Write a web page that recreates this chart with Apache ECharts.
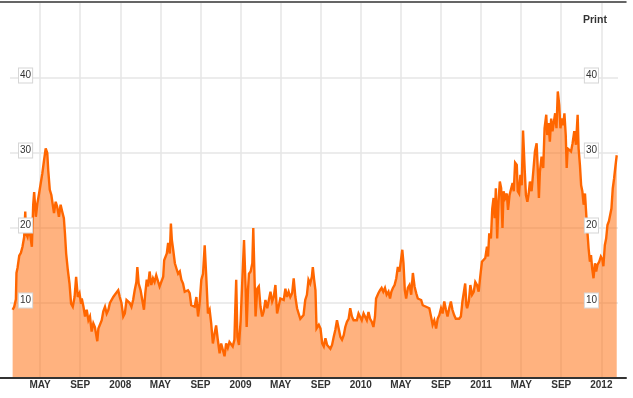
<!DOCTYPE html>
<html><head><meta charset="utf-8">
<script src="https://cdn.jsdelivr.net/npm/echarts@6/dist/echarts.min.js"></script>
<style>html,body{margin:0;padding:0;background:#fff}#c{width:633px;height:398px}</style>
</head><body><div id="c"></div>
<script>
// Dates as decimal years
const dates = [
2007.105,2007.118,2007.132,2007.137,2007.146,2007.160,2007.174,2007.187,2007.201,2007.210,
2007.216,2007.229,2007.243,2007.257,2007.265,2007.276,2007.284,2007.298,2007.311,2007.325,
2007.339,2007.352,2007.366,2007.380,2007.393,2007.401,2007.414,2007.427,2007.435,2007.449,
2007.463,2007.476,2007.490,2007.504,2007.517,2007.531,2007.540,2007.550,2007.564,2007.578,
2007.591,2007.605,2007.620,2007.633,2007.647,2007.661,2007.674,2007.680,2007.694,2007.707,
2007.721,2007.735,2007.748,2007.762,2007.776,2007.789,2007.809,2007.818,2007.832,2007.846,
2007.859,2007.873,2007.887,2007.901,2007.914,2007.928,2007.942,2007.955,2007.969,2007.983,
2007.996,2008.010,2008.025,2008.038,2008.052,2008.066,2008.079,2008.093,2008.107,2008.120,
2008.134,2008.142,2008.153,2008.169,2008.183,2008.197,2008.208,2008.220,2008.231,2008.244,
2008.258,2008.272,2008.285,2008.299,2008.313,2008.327,2008.343,2008.357,2008.365,2008.376,
2008.387,2008.398,2008.412,2008.421,2008.429,2008.440,2008.454,2008.467,2008.481,2008.495,
2008.508,2008.522,2008.536,2008.549,2008.563,2008.577,2008.590,2008.604,2008.619,2008.633,
2008.647,2008.660,2008.674,2008.688,2008.702,2008.715,2008.729,2008.743,2008.756,2008.770,
2008.784,2008.797,2008.811,2008.826,2008.839,2008.853,2008.867,2008.880,2008.894,2008.908,
2008.921,2008.935,2008.949,2008.956,2008.964,2008.974,2008.987,2009.001,2009.015,2009.029,
2009.043,2009.051,2009.062,2009.070,2009.084,2009.098,2009.106,2009.114,2009.125,2009.139,
2009.152,2009.166,2009.180,2009.193,2009.207,2009.222,2009.235,2009.249,2009.263,2009.276,
2009.290,2009.304,2009.317,2009.331,2009.345,2009.359,2009.373,2009.386,2009.400,2009.414,
2009.429,2009.442,2009.456,2009.470,2009.483,2009.497,2009.511,2009.524,2009.538,2009.552,
2009.565,2009.579,2009.593,2009.601,2009.612,2009.623,2009.632,2009.643,2009.651,2009.665,
2009.679,2009.692,2009.706,2009.720,2009.734,2009.747,2009.761,2009.775,2009.788,2009.802,
2009.816,2009.830,2009.844,2009.858,2009.871,2009.885,2009.899,2009.912,2009.926,2009.940,
2009.953,2009.967,2009.981,2009.994,2010.008,2010.023,2010.036,2010.050,2010.064,2010.077,
2010.091,2010.105,2010.118,2010.127,2010.138,2010.146,2010.160,2010.173,2010.187,2010.201,
2010.215,2010.230,2010.243,2010.254,2010.267,2010.281,2010.295,2010.308,2010.322,2010.331,
2010.345,2010.355,2010.366,2010.377,2010.391,2010.405,2010.419,2010.433,2010.447,2010.461,
2010.474,2010.488,2010.502,2010.515,2010.529,2010.543,2010.556,2010.570,2010.584,2010.597,
2010.611,2010.626,2010.639,2010.653,2010.667,2010.680,2010.694,2010.708,2010.721,2010.735,
2010.749,2010.762,2010.776,2010.790,2010.803,2010.817,2010.832,2010.845,2010.859,2010.868,
2010.878,2010.884,2010.898,2010.911,2010.925,2010.939,2010.952,2010.966,2010.980,2010.993,
2011.007,2011.021,2011.035,2011.049,2011.058,2011.068,2011.082,2011.093,2011.104,2011.113,
2011.123,2011.134,2011.146,2011.156,2011.167,2011.178,2011.187,2011.200,2011.214,2011.224,
2011.237,2011.250,2011.262,2011.272,2011.283,2011.297,2011.305,2011.316,2011.327,2011.338,
2011.349,2011.363,2011.373,2011.385,2011.396,2011.406,2011.420,2011.435,2011.448,2011.462,
2011.470,2011.481,2011.489,2011.503,2011.517,2011.528,2011.542,2011.550,2011.561,2011.572,
2011.583,2011.594,2011.604,2011.616,2011.627,2011.638,2011.650,2011.660,2011.671,2011.683,
2011.693,2011.704,2011.712,2011.720,2011.734,2011.748,2011.761,2011.775,2011.789,2011.803,
2011.811,2011.822,2011.832,2011.842,2011.853,2011.864,2011.875,2011.886,2011.894,2011.905,
2011.914,2011.924,2011.935,2011.947,2011.957,2011.968,2011.982,2011.996,2012.009,2012.017,
2012.029,2012.040,2012.051,2012.063,2012.073,2012.084,2012.095,2012.106,2012.117,2012.128
];
const values = [
9.1,9.5,10.5,14.0,14.7,16.3,16.7,17.5,18.8,22.2,
19.3,18.8,20.2,18.4,17.5,23.1,24.8,21.5,23.3,24.6,
26.0,27.3,29.0,30.6,30.0,27.7,25.1,24.4,23.5,22.0,
23.5,22.8,21.5,23.1,22.2,21.3,19.3,16.6,14.4,12.6,
9.9,9.5,10.8,13.5,10.8,11.3,9.9,10.6,9.5,8.2,
9.1,7.7,8.2,6.2,7.3,6.8,4.9,6.6,6.8,7.7,
8.9,9.5,8.6,9.1,10.0,10.2,10.8,11.1,11.3,11.7,
10.8,10.0,8.2,8.6,10.4,10.6,10.0,9.5,10.4,11.7,
12.8,14.8,12.6,11.7,10.4,9.1,11.3,13.1,12.2,14.2,
12.4,13.3,12.8,13.7,13.9,12.2,12.0,13.5,15.7,15.5,
16.6,18.0,16.6,20.6,18.4,17.1,15.3,14.6,13.9,14.2,
13.1,12.6,11.5,11.7,11.7,11.3,9.7,9.7,9.5,10.8,
8.2,10.0,13.1,13.9,17.7,13.5,8.6,9.1,7.3,4.6,
5.9,7.0,5.1,3.3,4.6,4.8,2.9,4.6,4.0,4.8,
4.8,4.2,5.1,9.1,13.1,5.5,4.4,7.7,13.1,18.4,
11.7,6.8,11.7,13.9,14.2,15.3,20.0,14.8,8.2,11.9,
12.2,9.5,8.2,8.9,10.4,9.3,9.1,11.5,10.2,10.8,
12.4,8.6,8.4,10.6,10.8,10.4,11.9,10.8,11.5,10.8,
11.3,13.3,10.8,9.3,8.6,7.9,7.7,8.4,10.4,11.1,
13.1,12.6,13.5,14.8,13.1,11.7,6.6,6.4,7.1,6.6,
4.6,4.2,5.3,4.4,4.4,3.9,4.4,5.5,6.4,7.7,
6.6,5.5,5.1,5.7,6.8,7.5,7.9,9.3,8.2,7.7,
7.9,7.7,8.6,8.8,7.7,8.6,8.8,7.7,8.8,7.9,
7.5,6.8,8.2,10.6,10.8,11.3,11.7,12.0,11.5,12.0,
11.1,11.5,10.6,11.5,12.0,12.4,13.3,14.8,14.2,14.0,
17.1,15.3,11.7,10.6,12.0,12.4,11.1,14.0,12.2,11.3,
10.6,10.4,10.4,9.7,9.7,9.5,9.7,9.3,8.2,7.1,
7.7,6.6,7.9,8.4,9.3,8.6,10.2,9.1,8.2,9.3,
10.2,9.1,8.4,7.9,7.7,7.9,8.2,10.2,10.0,12.6,
9.7,9.3,10.2,12.4,11.1,11.5,12.8,12.4,11.5,13.5,
15.5,15.3,16.0,17.5,16.2,19.3,18.6,22.6,24.0,21.3,
25.3,18.6,23.7,26.2,25.3,20.0,24.9,24.0,24.6,22.4,
24.4,24.2,26.0,24.9,28.7,28.4,24.9,24.6,27.1,25.7,
33.0,27.7,24.4,23.5,24.6,26.2,24.9,27.7,30.2,31.3,
28.4,24.0,27.5,29.5,28.0,33.3,35.1,32.4,34.0,31.5,
34.6,32.9,32.9,35.3,33.3,38.2,36.4,33.3,34.6,33.7,
35.3,32.4,28.0,30.6,30.4,30.2,31.3,32.9,31.1,35.1,
30.6,28.4,25.7,24.9,23.1,24.6,21.7,19.1,17.3,15.5,
16.4,14.6,13.3,15.3,14.2,15.1,15.5,16.2,15.8,14.9,
17.7,18.6,20.4,20.9,21.7,22.6,25.3,26.6,28.2,29.7
];
// x tick labels, one every 4 months starting January 2007
const xTickLabels = ['2007','MAY','SEP','2008','MAY','SEP','2009','MAY','SEP','2010','MAY','SEP','2011','MAY','SEP','2012'];
const yTickLabels = ['0','10','20','30','40','50'];

const FONT = "'Liberation Sans', Arial, sans-serif";
const NARROW = "'Liberation Sans Narrow', 'Liberation Sans', Arial, sans-serif";
const seriesData = dates.map((d, i) => [(d - 2007) * 12, values[i]]);

const chart = echarts.init(document.getElementById('c'));
const boxLabel = {
  inside: true, showMinLabel: false, showMaxLabel: false,
  formatter: v => yTickLabels[Math.round(v / 10)],
  color: '#333', fontSize: 10, fontFamily: FONT, lineHeight: 11,
  backgroundColor: '#fff', borderColor: '#d6d6d6', borderWidth: 1,
  padding: [2, 1, 1, 1]
};
chart.setOption({
  animation: false,
  backgroundColor: '#fff',
  title: {
    text: 'Print', left: 583, top: 15, padding: 0,
    textStyle: { fontSize: 10.5, fontWeight: 'bold', color: '#333', fontFamily: FONT }
  },
  grid: [
    { left: 10, right: 15, top: 3, bottom: 20 },
    { left: -4.32, right: 16.23, top: 3, bottom: 20 },
    { left: 0, right: 7, top: 2, bottom: 20 },
    { left: 10, right: 15, top: 0.5, bottom: 22.5 }
  ],
  xAxis: [
    { gridIndex: 0, type: 'value', min: 0, max: 1, show: false },
    {
      gridIndex: 1, type: 'value', min: 0, max: 61.54, interval: 4,
      axisLine: { show: false }, axisTick: { show: false },
      splitLine: { show: true, showMinLine: false, showMaxLine: false, lineStyle: { color: '#e6e6e6', width: 1.5 } },
      axisLabel: {
        showMinLabel: false, showMaxLabel: false, margin: 2,
        formatter: v => (v % 4 === 0 ? xTickLabels[v / 4] : ''),
        color: '#333', fontWeight: 'bold', fontSize: 10, fontFamily: NARROW
      }
    },
    { gridIndex: 2, type: 'value', min: 0, max: 1, position: 'bottom', z: 10,
      axisLine: { show: true, lineStyle: { color: '#333', width: 2 } },
      axisTick: { show: false }, axisLabel: { show: false }, splitLine: { show: false } },
    { gridIndex: 2, type: 'value', min: 0, max: 1, position: 'top', z: 10,
      axisLine: { show: true, lineStyle: { color: '#333', width: 1.5 } },
      axisTick: { show: false }, axisLabel: { show: false }, splitLine: { show: false } },
    { gridIndex: 3, type: 'value', min: 0, max: 1, show: false }
  ],
  yAxis: [
    { gridIndex: 0, type: 'value', min: 0, max: 50, interval: 10,
      axisLine: { show: false }, axisTick: { show: false }, axisLabel: { show: false },
      splitLine: { show: true, showMinLine: false, showMaxLine: false, lineStyle: { color: '#e6e6e6', width: 1.5 } } },
    { gridIndex: 1, type: 'value', min: 0, max: 50, interval: 10, show: false },
    { gridIndex: 2, type: 'value', min: 0, max: 1, show: false },
    { gridIndex: 3, type: 'value', min: 0, max: 50, interval: 10, position: 'left', z: 10,
      axisLine: { show: false }, axisTick: { show: false }, splitLine: { show: false },
      axisLabel: Object.assign({}, boxLabel, { margin: 9 }) },
    { gridIndex: 3, type: 'value', min: 0, max: 50, interval: 10, position: 'right', z: 10,
      axisLine: { show: false }, axisTick: { show: false }, splitLine: { show: false },
      axisLabel: Object.assign({}, boxLabel, { margin: 20 }) }
  ],
  series: [{
    type: 'line', xAxisIndex: 1, yAxisIndex: 1, data: seriesData,
    symbol: 'none', z: 3,
    lineStyle: { color: '#ff6600', width: 2.4, join: 'miter', miterLimit: 4 },
    areaStyle: { color: '#ff6600', opacity: 0.5 }
  }]
});
</script></body></html>
